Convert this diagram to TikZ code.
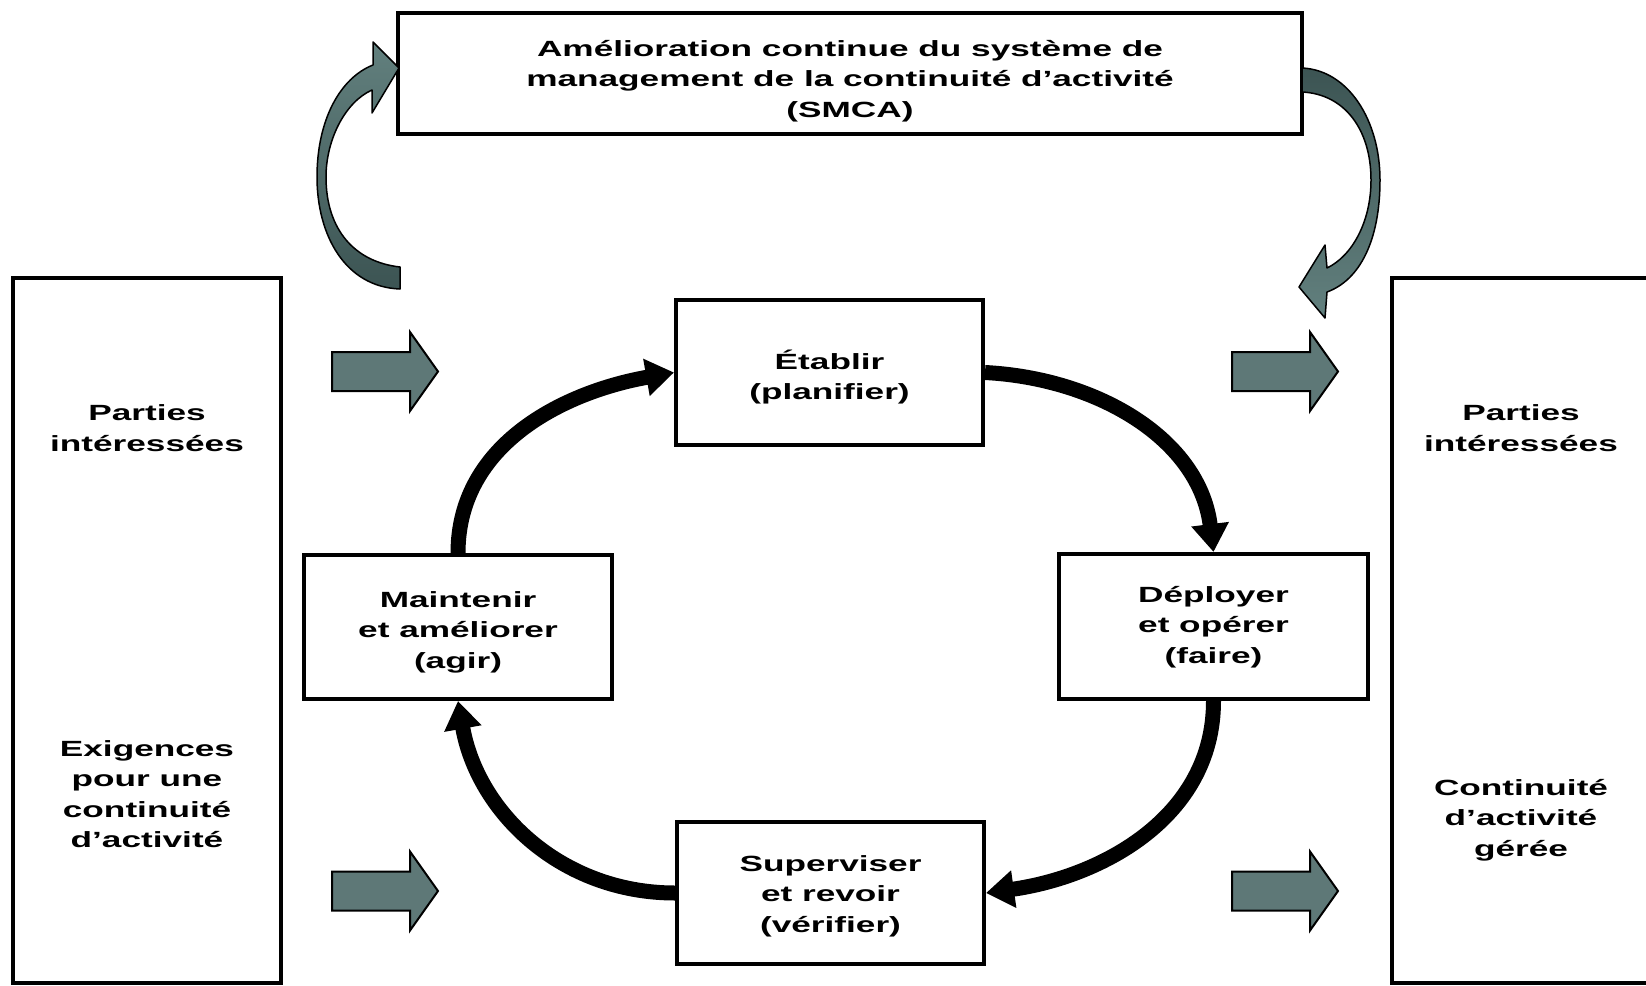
\documentclass[tikz,border=0pt]{standalone}
\usepackage{fontspec}
\setmainfont{Liberation Sans}[FakeStretch=1.6]
\usetikzlibrary{arrows.meta}
\definecolor{blockfill}{HTML}{5E7877}
\definecolor{curvedark}{HTML}{3C5453}
\definecolor{curvelight}{HTML}{62807E}
\tikzset{
  box/.style={draw, line width=4pt, inner sep=0pt},
  txt/.style={align=center, inner sep=0pt},
  cyc/.style={line width=15pt, -{Triangle[length=28pt,width=36pt]}},
  curved/.style={draw=black, line width=1.5pt, line join=round},
  blockarrow/.pic={\draw[line width=2pt, fill=blockfill, line join=miter]
     (0,-19.5) -- (78,-19.5) -- (78,-39.5) -- (106,0) -- (78,39.5) -- (78,19.5) -- (0,19.5) -- cycle;}
}
\begin{document}
\begin{tikzpicture}[x=1pt, y=-1pt, font=\fontsize{22}{30.5}\selectfont\bfseries]
\clip (0,0) rectangle (1646,985);
\fill[white] (0,0) rectangle (1646,985);

% top box
\node[box, minimum width=904pt, minimum height=121pt] (smca) at (850,73.5) {};
\node[txt] (smcatxt) at (850,81)
  {Amélioration continue du système de\\management de la continuité d’activité\\(SMCA)};

% side boxes
\node[box, minimum width=268pt, minimum height=705pt] (lbox) at (147,630.5) {};
\node[box, minimum width=268pt, minimum height=705pt] (rbox) at (1526,630.5) {};
\node[txt] (lparties) at (147,428) {Parties\\intéressées};
\node[txt] (lexig) at (147,794) {Exigences\\pour une\\continuité\\d’activité};
\node[txt] (rparties) at (1521,428) {Parties\\intéressées};
\node[txt] (rcont) at (1521,820) {Continuité\\d’activité\\gérée};

% cycle boxes
\node[box, minimum width=307pt, minimum height=145pt] (etab) at (829.5,372.5) {};
\node[txt] (etabtxt) at (829.5,377) {Établir\\(planifier)};
\node[box, minimum width=309pt, minimum height=145pt] (depl) at (1213.5,626.5) {};
\node[txt] (depltxt) at (1213.5,627) {Déployer\\et opérer\\(faire)};
\node[box, minimum width=308pt, minimum height=144pt] (maint) at (458,627) {};
\node[txt] (mainttxt) at (458,632) {Maintenir\\et améliorer\\(agir)};
\node[box, minimum width=307pt, minimum height=142pt] (superv) at (830.5,893) {};
\node[txt] (supervtxt) at (830.5,896) {Superviser\\et revoir\\(vérifier)};

% cycle arrows
\draw[cyc] (maint.north) to[out=90, in=190] (etab.west);
\draw[cyc] (etab.east) to[out=-3, in=97] (depl.north);
\draw[cyc] (depl.south) to[out=-90, in=8] (superv.east);
\draw[cyc] (superv.west) to[out=180, in=-80] (maint.south);

% block arrows
\pic at (332,371.5) {blockarrow};
\pic at (332,891) {blockarrow};
\pic at (1232,371.5) {blockarrow};
\pic at (1232,891) {blockarrow};

% curved arrows
\path[curved, top color=curvelight, bottom color=curvedark]
  (400,289) .. controls (345,287) and (317,235) .. (317,177)
  .. controls (317,120) and (340,78) .. (373,65)
  -- (373,42) -- (399,68) -- (372,113) -- (372,90)
  .. controls (345,102) and (326,140) .. (326,177)
  .. controls (326,230) and (355,262) .. (400,267) -- cycle;
\path[curved, top color=curvedark, bottom color=curvelight]
  (1302,68) .. controls (1348,70) and (1380,120) .. (1380,180)
  .. controls (1380,240) and (1360,280) .. (1327,292)
  -- (1325,318) -- (1299,287) -- (1325,245) -- (1327,268)
  .. controls (1352,256) and (1371,222) .. (1371,180)
  .. controls (1371,130) and (1345,94) .. (1302,92) -- cycle;
\end{tikzpicture}
\end{document}
